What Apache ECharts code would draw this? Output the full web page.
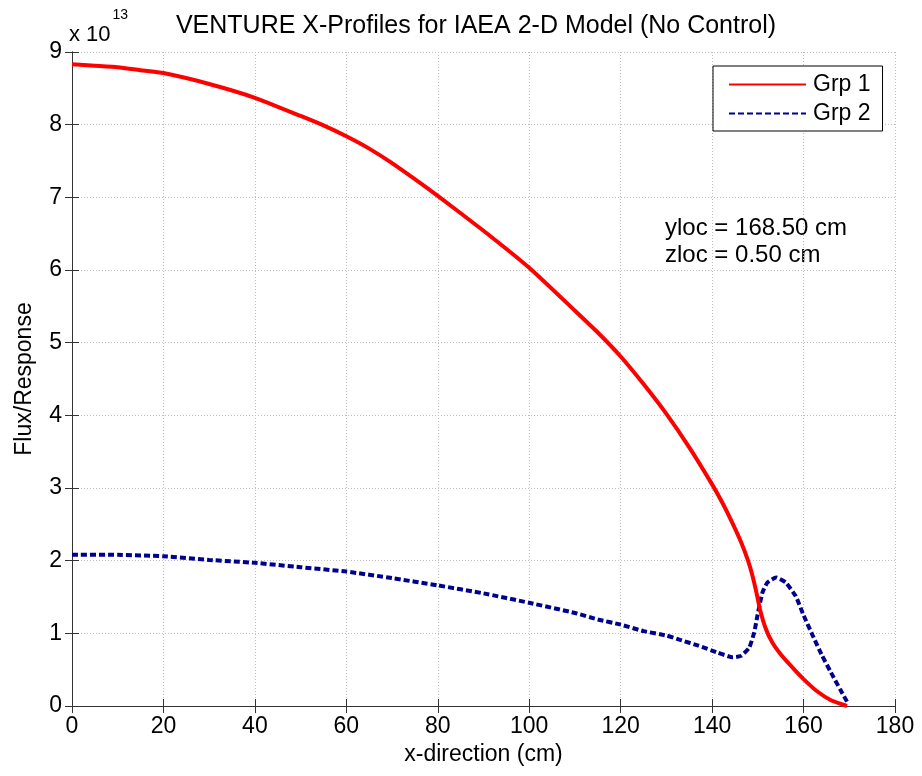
<!DOCTYPE html>
<html>
<head>
<meta charset="utf-8">
<script src="https://cdn.jsdelivr.net/npm/echarts@6/dist/echarts.min.js"></script>
<style>
html,body{margin:0;padding:0;background:#fff;}
#chart{width:922px;height:776px;}
</style>
</head>
<body>
<div id="chart"></div>
<script>
// Values in units of 1e13
const grp1X = [0,5,10,15,20,30,40,50,55,60,65,70,80,90,100,110,115,120,125,130,135,140,142.3,144.5,146.3,147.8,148.8,149.7,150.5,151.7,153.2,155.4,158.3,160,162.8,166,169.5];
const grp1Y = [8.83,8.81,8.79,8.75,8.71,8.56,8.37,8.12,7.99,7.84,7.67,7.47,7.02,6.54,6.03,5.44,5.14,4.81,4.43,4.02,3.56,3.05,2.79,2.51,2.26,2.01,1.80,1.56,1.32,1.07,0.87,0.68,0.48,0.37,0.21,0.08,0.0];
const grp2X = [0,10,20,30,40,50,60,70,80,90,100,110,115,120,125,130,133,137,141,144.5,146.3,148.1,149.2,149.9,151,152.1,154,156.1,158.3,160,162,164,166,168,169.5];
const grp2Y = [2.08,2.08,2.06,2.01,1.97,1.91,1.85,1.76,1.66,1.55,1.42,1.28,1.19,1.12,1.03,0.97,0.91,0.83,0.74,0.67,0.69,0.80,1.01,1.24,1.56,1.70,1.77,1.70,1.51,1.25,0.97,0.70,0.46,0.23,0.06];
const seriesNames = ['Grp 1','Grp 2'];
const titleText = 'VENTURE X-Profiles for IAEA 2-D Model (No Control)';
const xName = 'x-direction (cm)';
const yName = 'Flux/Response';
const annot1 = 'yloc = 168.50 cm';
const annot2 = 'zloc = 0.50 cm';

const FONT = 'Liberation Sans, Arial, sans-serif';
const pairs = (xs, ys) => xs.map((x, i) => [x, ys[i]]);

const chart = echarts.init(document.getElementById('chart'));
const gridLine = {show: true, lineStyle: {color: '#bdbdbd', type: [1,2], width: 1}};
const axLine = {show: true, lineStyle: {color: '#333', width: 1}};
const tick = {show: true, inside: true, length: 7, lineStyle: {color: '#333'}};
chart.setOption({
  animation: false,
  backgroundColor: '#fff',
  title: {
    text: titleText, left: 471, top: 9, textAlign: 'center',
    textStyle: {fontFamily: FONT, fontSize: 25, fontWeight: 'normal', color: '#000'}
  },
  grid: {left: 72, right: 27, top: 52, bottom: 70},
  legend: {
    data: seriesNames, orient: 'vertical', left: 713, top: 66,
    padding: [7, 12, 6, 15], itemGap: 6, itemWidth: 77, itemHeight: 20,
    borderColor: '#000', borderWidth: 1, backgroundColor: '#fff',
    itemStyle: {opacity: 0, borderWidth: 0},
    textStyle: {fontFamily: FONT, fontSize: 23, color: '#000', padding: [0,0,0,2]}
  },
  xAxis: [{
    type: 'value', min: 0, max: 180, interval: 20, position: 'bottom',
    name: xName, nameLocation: 'middle', nameGap: 35,
    nameTextStyle: {fontFamily: FONT, fontSize: 23, color: '#000'},
    axisLine: axLine, axisTick: tick, splitLine: gridLine,
    axisLabel: {fontFamily: FONT, fontSize: 23, color: '#000', margin: 9}
  }, {
    type: 'value', min: 0, max: 180, interval: 20, position: 'top',
    axisLine: axLine, axisTick: tick, splitLine: {show: false}, axisLabel: {show: false}
  }],
  yAxis: [{
    type: 'value', min: 0, max: 9, interval: 1, position: 'left',
    name: yName, nameLocation: 'middle', nameGap: 36,
    nameTextStyle: {fontFamily: FONT, fontSize: 23, color: '#000'},
    axisLine: axLine, axisTick: tick, splitLine: gridLine,
    axisLabel: {fontFamily: FONT, fontSize: 23, color: '#000', margin: 10}
  }, {
    type: 'value', min: 0, max: 9, interval: 1, position: 'right',
    axisLine: axLine, axisTick: tick, splitLine: {show: false}, axisLabel: {show: false}
  }],
  series: [{
    name: seriesNames[0], type: 'line', data: pairs(grp1X, grp1Y),
    xAxisIndex: 0, yAxisIndex: 0, smooth: 0.15, showSymbol: false, symbol: 'none',
    lineStyle: {color: '#ff0000', width: 4}, itemStyle: {color: '#ff0000'}, z: 3
  }, {
    name: seriesNames[1], type: 'line', data: pairs(grp2X, grp2Y),
    xAxisIndex: 0, yAxisIndex: 0, smooth: 0.15, showSymbol: false, symbol: 'none',
    lineStyle: {color: '#00008f', width: 4, type: [6, 3]}, itemStyle: {color: '#00008f'}, z: 2
  }],
  graphic: [{
    type: 'text', left: 69, top: 8,
    style: {
      text: '{a|x 10}{b|13}', fill: '#000',
      rich: {
        a: {fontFamily: FONT, fontSize: 22, padding: [16,0,0,0]},
        b: {fontFamily: FONT, fontSize: 14, verticalAlign: 'top', padding: [0,0,0,2]}
      }
    }
  }, {
    type: 'text', left: 665, top: 216,
    style: {text: annot1, fontFamily: FONT, fontSize: 24, fill: '#000'}
  }, {
    type: 'text', left: 665, top: 243,
    style: {text: annot2, fontFamily: FONT, fontSize: 24, fill: '#000'}
  }]
});
</script>
</body>
</html>
